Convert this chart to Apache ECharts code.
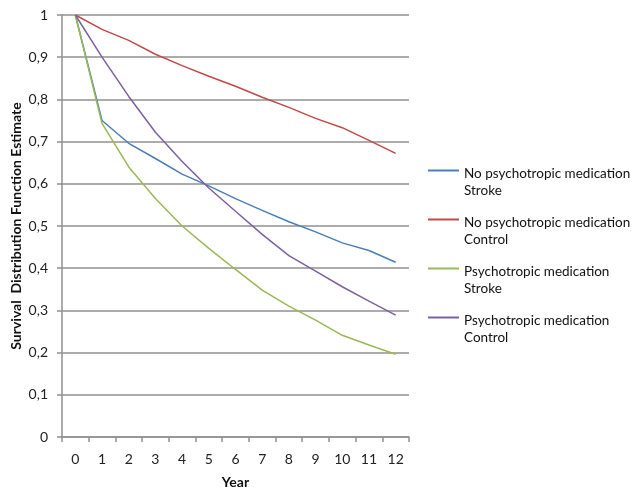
<!DOCTYPE html>
<html>
<head>
<meta charset="utf-8">
<script src="https://cdn.jsdelivr.net/npm/echarts@6/dist/echarts.min.js"></script>
<style>
html,body{margin:0;padding:0;background:#fff;}
#c{width:633px;height:487px;}
</style>
</head>
<body>
<div id="c"></div>
<script>
var years = ['0','1','2','3','4','5','6','7','8','9','10','11','12'];
var noPsychStroke  = [1, 0.75, 0.696, 0.66, 0.623, 0.595, 0.565, 0.537, 0.51, 0.486, 0.46, 0.442, 0.414];
var noPsychControl = [1, 0.966, 0.94, 0.907, 0.88, 0.855, 0.831, 0.805, 0.781, 0.755, 0.733, 0.703, 0.672];
var psychStroke    = [1, 0.743, 0.64, 0.565, 0.5, 0.447, 0.397, 0.348, 0.31, 0.277, 0.241, 0.218, 0.196];
var psychControl   = [1, 0.9, 0.807, 0.722, 0.653, 0.59, 0.535, 0.48, 0.43, 0.393, 0.356, 0.322, 0.289];
var seriesNames = ['No psychotropic medication\nStroke','No psychotropic medication\nControl','Psychotropic medication\nStroke','Psychotropic medication\nControl'];
var colors = ['#4a7ebb','#be4b48','#98b954','#7d60a0'];
var dataSets = [noPsychStroke, noPsychControl, psychStroke, psychControl];

var chart = echarts.init(document.getElementById('c'));
var font = 'Lato';
chart.setOption({
  animation: false,
  textStyle: {fontFamily: font},
  grid: {left: 62, right: 224, top: 15, bottom: 50, containLabel: false, outerBoundsMode: 'none'},
  legend: {
    orient: 'vertical',
    left: 423,
    top: 137,
    icon: 'rect',
    itemWidth: 31,
    itemHeight: 2,
    itemGap: -8,
    data: seriesNames,
    formatter: function(name){ return '{s|\u00a0}\n' + name; },
    textStyle: {fontFamily: font, fontSize: 13.5, color: '#111', lineHeight: 17, overflow: 'none',
      rich: {s: {fontSize: 13.5, lineHeight: 23}}}
  },
  xAxis: {
    type: 'category',
    data: years,
    boundaryGap: true,
    name: 'Year',
    nameLocation: 'middle',
    nameGap: 38,
    nameTextStyle: {fontFamily: font, fontWeight: 'bold', fontSize: 14, color: '#111'},
    axisLine: {lineStyle: {color: '#909090', width: 1.5}},
    axisTick: {show: true, length: 5, alignWithLabel: false, lineStyle: {color: '#909090', width: 1.5}},
    axisLabel: {fontFamily: font, fontSize: 14, color: '#222', margin: 15}
  },
  yAxis: {
    type: 'value',
    min: 0, max: 1, interval: 0.1,
    name: 'Survival  Distribution Function Estimate',
    nameLocation: 'middle',
    nameGap: 39,
    nameMoveOverlap: false,
    nameTextStyle: {fontFamily: font, fontWeight: 'bold', fontSize: 14, color: '#111'},
    axisLine: {show: true, lineStyle: {color: '#909090', width: 1.5}},
    axisTick: {show: true, length: 5, lineStyle: {color: '#909090', width: 1.5}},
    splitLine: {show: true, lineStyle: {color: '#909090', width: 1.5}},
    axisLabel: {fontFamily: font, fontSize: 14, color: '#222', margin: 14,
      formatter: function(v){ return String(Math.round(v*10)/10).replace('.', ','); }}
  },
  series: dataSets.map(function(d, i){
    return {
      name: seriesNames[i],
      type: 'line',
      data: d,
      symbol: 'none',
      showSymbol: false,
      color: colors[i],
      lineStyle: {color: colors[i], width: 1.5}
    };
  })
});
</script>
</body>
</html>
